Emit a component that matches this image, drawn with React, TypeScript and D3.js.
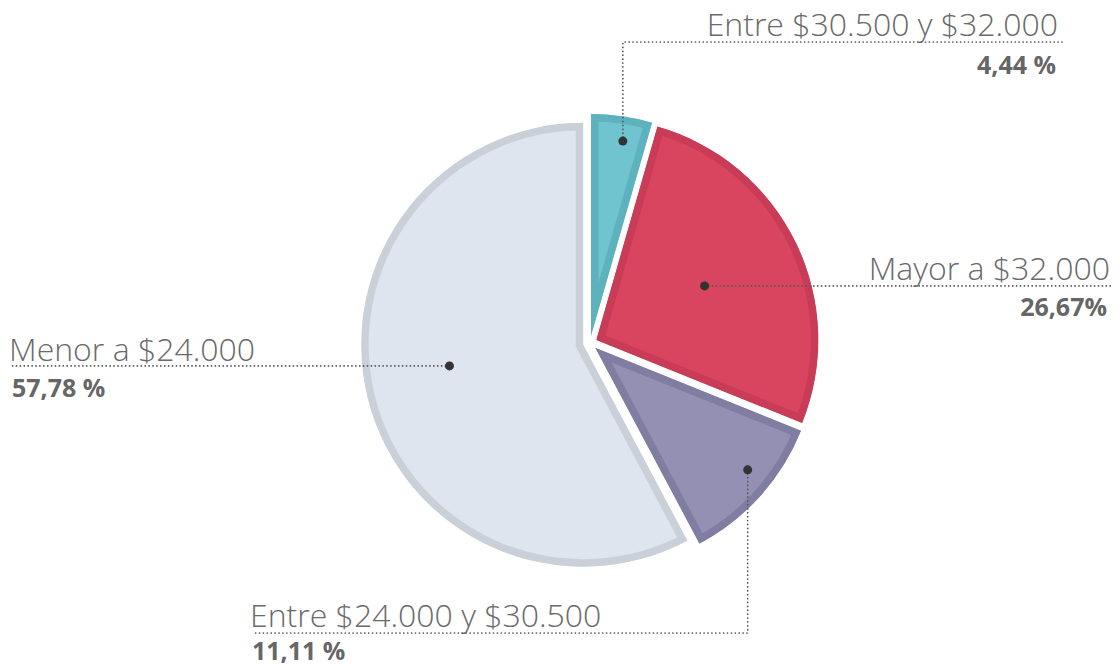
import React from "react";
import * as d3 from "d3";

// datos del gráfico
const categories = ["Entre $30.500 y $32.000", "Mayor a $32.000", "Entre $24.000 y $30.500", "Menor a $24.000"];
const values = [4.44, 26.67, 11.11, 57.78];
const pctLabels = ["4,44 %", "26,67%", "11,11 %", "57,78 %"];

const fills = ["#6fc4d0", "#d9445f", "#9390b4", "#dfe5ee"];
const borders = ["#5eb2be", "#c93c57", "#807da2", "#cad0d8"];

const W = 1120;
const H = 667;
const cx = 590;
const cy = 343;
const radius = 222;
const explode = 7;

// dónde va el punto de cada sector (fracción del radio, ajuste de ángulo en grados)
const dotPos = [
  { r: 0.89, da: 1.3 },
  { r: 0.545, da: -0.5 },
  { r: 0.88, da: -3.3 },
  { r: 0.61, da: 5 },
];

const App = () => {
  const pie = d3.pie<number>().sort(null).value((d) => d);
  const arcs = pie(values);
  const arc = d3.arc<d3.PieArcDatum<number>>().innerRadius(0).outerRadius(radius);

  const pts = arcs.map((a, i) => {
    const mid = (a.startAngle + a.endAngle) / 2;
    const ox = Math.sin(mid) * explode;
    const oy = -Math.cos(mid) * explode;
    const ang = mid + (dotPos[i].da * Math.PI) / 180;
    const rr = radius * dotPos[i].r;
    return { ox, oy, x: cx + ox + Math.sin(ang) * rr, y: cy + oy - Math.cos(ang) * rr };
  });

  // líneas guía hacia las etiquetas
  const leaders = [
    `M${pts[0].x},${pts[0].y}V42H1062`,
    `M${pts[1].x},${pts[1].y}H1112`,
    `M${pts[2].x},${pts[2].y}V633H252`,
    `M${pts[3].x},${pts[3].y}H12`,
  ];

  const labels = [
    { x: 1058, y: 36, px: 1056, py: 74, anchor: "end" },
    { x: 1110, y: 280, px: 1107, py: 316, anchor: "end" },
    { x: 250, y: 627, px: 252, py: 660, anchor: "start" },
    { x: 9, y: 361, px: 12, py: 397, anchor: "start" },
  ];

  return (
    <svg width={W} height={H} style={{ position: "absolute", left: 0, top: 0, background: "#fff" }}>
      <defs>
        {arcs.map((a, i) => (
          <clipPath key={i} id={`clip-${i}`}>
            <path d={arc(a) || ""} />
          </clipPath>
        ))}
      </defs>
      {arcs.map((a, i) => (
        <g key={i} transform={`translate(${cx + pts[i].ox},${cy + pts[i].oy})`}>
          <path
            d={arc(a) || ""}
            fill={fills[i]}
            stroke={borders[i]}
            strokeWidth={15}
            clipPath={`url(#clip-${i})`}
          />
        </g>
      ))}
      {leaders.map((d, i) => (
        <path
          key={i}
          d={d}
          fill="none"
          stroke="#555"
          strokeWidth={1.7}
          strokeDasharray="0.1 3.8"
          strokeLinecap="round"
        />
      ))}
      {pts.map((p, i) => (
        <circle key={i} cx={p.x} cy={p.y} r={4.5} fill="#333" />
      ))}
      {labels.map((l, i) => (
        <g key={i} textAnchor={l.anchor}>
          <text x={l.x} y={l.y} fontFamily="'Open Sans', sans-serif" fontWeight={300} fontSize={32} fill="#6a6a6a">
            {categories[i]}
          </text>
          <text x={l.px} y={l.py} fontFamily="'Open Sans', sans-serif" fontWeight={700} fontSize={25} fill="#666">
            {pctLabels[i]}
          </text>
        </g>
      ))}
    </svg>
  );
};

export default App;
